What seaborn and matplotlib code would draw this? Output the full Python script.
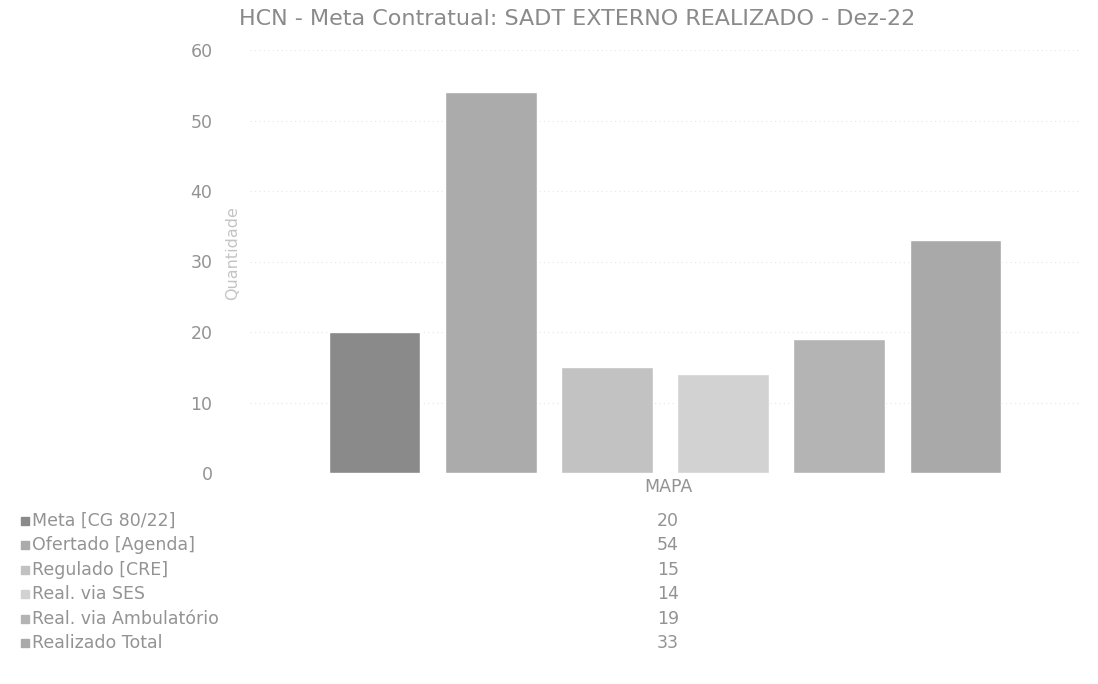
import numpy as np
import pandas as pd
import matplotlib
matplotlib.use("Agg")
import matplotlib.pyplot as plt
import seaborn as sns

# dados
categoria = "MAPA"
series = ["Meta [CG 80/22]", "Ofertado [Agenda]", "Regulado [CRE]",
          "Real. via SES", "Real. via Ambulatório", "Realizado Total"]
valores = [20, 54, 15, 14, 19, 33]
cores = ["#8a8a8a", "#ababab", "#c2c2c2", "#d2d2d2", "#b4b4b4", "#a9a9a9"]
titulo = "HCN - Meta Contratual: SADT EXTERNO REALIZADO - Dez-22"
y_ticks = [0, 10, 20, 30, 40, 50, 60]

sns.set_style("white")
plt.rcParams["font.family"] = ["DejaVu Sans"]
cor_texto = "#939393"

df = pd.DataFrame({"cat": [categoria] * len(series), "serie": series, "valor": valores})

fig = plt.figure(figsize=(10.98, 6.84), dpi=100)
ax = fig.add_axes([250 / 1098, 1 - 473 / 684, 830 / 1098, 423 / 684])

sns.barplot(data=df, x="cat", y="valor", hue="serie", hue_order=series,
            palette=cores, width=0.84, gap=0.21, legend=False, ax=ax,
            saturation=1)

ax.set_xlim(-0.5, 0.5)
ax.set_ylim(0, 60)
ax.set_yticks(y_ticks)
ax.yaxis.grid(True, color="#e6e6e6", linestyle=(0, (1, 3)), linewidth=0.8)
ax.set_axisbelow(True)
for s in ax.spines.values():
    s.set_visible(False)
ax.tick_params(axis="y", colors=cor_texto, labelsize=12.5, length=0, pad=27)
ax.set_xticks([])
ax.set_xlabel("")
ax.set_ylabel("Quantidade", color="#c4c4c4", fontsize=11.5)
ax.yaxis.set_label_coords(-0.012, 0.52)

fig.text(577 / 1098, 1 - 19 / 684, titulo, ha="center", va="center",
         fontsize=16, color="#8a8a8a")

# tabela de dados abaixo do gráfico
fig.text(668 / 1098, 1 - 487 / 684, categoria, ha="center", va="center",
         fontsize=12.5, color=cor_texto)
for i, (nome, v, c) in enumerate(zip(series, valores, cores)):
    y = 1 - (521 + i * 24.4) / 684
    fig.patches.append(plt.Rectangle((21 / 1098, y - 4 / 684), 8 / 1098, 8 / 684,
                                     transform=fig.transFigure, color=c))
    fig.text(32 / 1098, y, nome, ha="left", va="center", fontsize=12.5, color=cor_texto)
    fig.text(668 / 1098, y, str(v), ha="center", va="center", fontsize=12.5, color=cor_texto)

fig.savefig("out.png", dpi=100)
